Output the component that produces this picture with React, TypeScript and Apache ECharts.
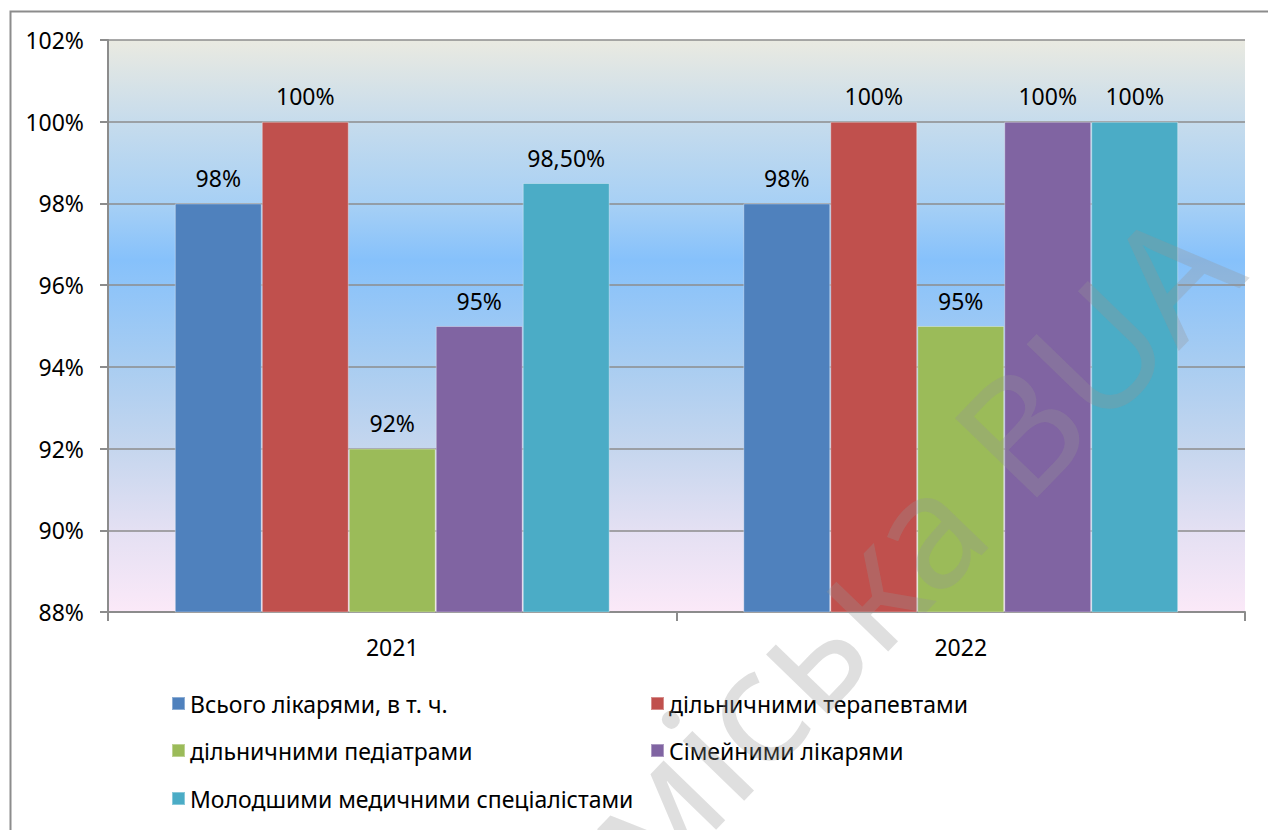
import React, { useEffect, useRef } from "react";
import * as echarts from "echarts";

const categories = ["2021", "2022"];
const seriesNames = [
  "Всього лікарями, в т. ч.",
  "дільничними терапевтами",
  "дільничними педіатрами",
  "Сімейними лікарями",
  "Молодшими медичними спеціалістами",
];
const seriesColors = ["#4F81BD", "#C0504D", "#9BBB59", "#8064A2", "#4BACC6"];
const totalDoctors = [98, 98];
const therapists = [100, 100];
const pediatricians = [92, 95];
const familyDoctors = [95, 100];
const juniorSpecialists = [98.5, 100];
const seriesValues = [totalDoctors, therapists, pediatricians, familyDoctors, juniorSpecialists];
const yMin = 88;
const yMax = 102;
const yStep = 2;

const FONT = "'Noto Sans', 'DejaVu Sans', sans-serif";

const fmtPct = (v: number) =>
  (Number.isInteger(v) ? String(v) : v.toFixed(2).replace(".", ",")) + "%";

const legendPos = [
  { left: 171, top: 692 },
  { left: 650, top: 692 },
  { left: 171, top: 739 },
  { left: 650, top: 739 },
  { left: 171, top: 787 },
];

export default function App() {
  const ref = useRef<HTMLDivElement>(null);
  useEffect(() => {
    if (!ref.current) return;
    const chart = echarts.init(ref.current, undefined, { renderer: "svg" });
    const option: any = {
      animation: false,
      backgroundColor: "#ffffff",
      textStyle: { fontFamily: FONT },
      grid: {
        left: 108,
        right: 23,
        top: 40,
        bottom: 218,
        show: true,
        borderWidth: 0,
        backgroundColor: {
          type: "linear",
          x: 0,
          y: 0,
          x2: 0,
          y2: 1,
          colorStops: [
            { offset: 0, color: "#EAEAE1" },
            { offset: 0.14, color: "#C7DCEC" },
            { offset: 0.286, color: "#A7D0F5" },
            { offset: 0.385, color: "#86C1FB" },
            { offset: 0.57, color: "#A9CDF1" },
            { offset: 0.714, color: "#C5D6EE" },
            { offset: 0.857, color: "#E4E0F3" },
            { offset: 1, color: "#FBE9F8" },
          ],
        },
      },
      legend: seriesNames.map((n, i) => ({
        data: [n],
        left: legendPos[i].left,
        top: legendPos[i].top,
        icon: "rect",
        itemWidth: 13,
        itemHeight: 13,
        padding: 0,
        selectedMode: false,
        textStyle: { fontSize: 23, color: "#000", fontFamily: FONT },
      })),
      xAxis: {
        type: "category",
        data: categories,
        axisLine: { lineStyle: { color: "#8C8C8C", width: 2 } },
        axisTick: { show: true, length: 9, lineStyle: { color: "#8C8C8C", width: 2 } },
        axisLabel: { fontSize: 23, color: "#000", margin: 23, fontFamily: FONT },
      },
      yAxis: {
        type: "value",
        min: yMin,
        max: yMax,
        interval: yStep,
        axisLine: { show: true, lineStyle: { color: "#8C8C8C", width: 2 } },
        axisTick: { show: true, length: 8, lineStyle: { color: "#8C8C8C", width: 2 } },
        splitLine: { lineStyle: { color: "#8C8C8C", width: 1.5 } },
        axisLabel: {
          fontSize: 23,
          color: "#000",
          margin: 24,
          fontFamily: FONT,
          formatter: (v: number) => v + "%",
        },
      },
      series: seriesNames.map((n, i) => ({
        name: n,
        type: "bar",
        data: seriesValues[i],
        barGap: "0%",
        barCategoryGap: "23.5%",
        itemStyle: {
          color: seriesColors[i],
          borderColor: "rgba(255,255,255,0.35)",
          borderWidth: 1,
        },
        label: {
          show: true,
          position: "top",
          distance: 14,
          fontSize: 23,
          color: "#000",
          fontFamily: FONT,
          formatter: (p: any) => fmtPct(p.value),
        },
      })),
      graphic: [
        {
          type: "rect",
          left: 8,
          top: 9,
          shape: { x: 0, y: 0, width: 1300, height: 900 },
          style: { fill: "none", stroke: "#8C8C8C", lineWidth: 2 },
          silent: true,
          z: 100,
        },
        {
          type: "text",
          x: 905,
          y: 545,
          rotation: (46 * Math.PI) / 180,
          silent: true,
          z: 200,
          style: {
            text: "міська BUA",
            fontSize: 160,
            fontFamily: FONT,
            fill: "rgba(150,150,150,0.3)",
            align: "center",
            verticalAlign: "middle",
          },
        },
      ],
    };
    chart.setOption(option);
    return () => chart.dispose();
  }, []);
  return (
    <div
      ref={ref}
      style={{ position: "absolute", left: 0, top: 0, width: 1268, height: 830 }}
    />
  );
}
